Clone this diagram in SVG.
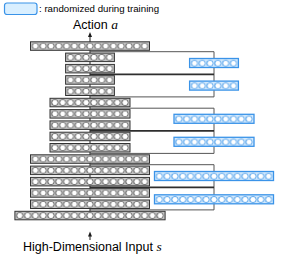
<svg xmlns="http://www.w3.org/2000/svg" width="290" height="256" viewBox="0 0 290 256">
<style>
.bar{fill:#c4c4c4;stroke:#333;stroke-width:1}
.blue{fill:#d3e9fc;stroke:#3a93e8;stroke-width:1.3}
.thin{fill:none;stroke:#555;stroke-width:1}
.dark{fill:none;stroke:#2e2e2e;stroke-width:1.8}
.axis{fill:none;stroke:#1a1a1a;stroke-width:1}
.lbl{font-family:"Liberation Sans",Arial,sans-serif;fill:#000}
.math{font-family:"Liberation Serif","Times New Roman",serif;font-style:italic}
</style>
<defs>
<pattern id="cells" patternUnits="userSpaceOnUse" x="1" y="0" width="7.8" height="8.5">
<line x1="0" y1="2" x2="0" y2="6.5" stroke="#666" stroke-width="0.6"/>
<circle cx="3.9" cy="4.25" r="3.05" fill="#fff" stroke="#555" stroke-width="0.8"/>
</pattern>
<pattern id="bcells" patternUnits="userSpaceOnUse" x="1" y="0.25" width="7.8" height="9">
<line x1="0" y1="2" x2="0" y2="7" stroke="#3a93e8" stroke-width="0.6"/>
<circle cx="3.9" cy="4.5" r="3.05" fill="#fff" stroke="#3a93e8" stroke-width="0.8"/>
</pattern>
</defs>

<g id="legend">
<rect x="4.5" y="3" width="32.5" height="11.5" rx="2.5" fill="#d9efff" stroke="#3a93e8" stroke-width="1.2"/>
<text class="lbl" x="39" y="12" font-size="9.7">: randomized during training</text>
</g>

<g id="connectors">
<line class="axis" x1="90" y1="36" x2="90" y2="212"/>
<polygon points="90,32 88,37 92,37" fill="#1a1a1a"/>
<line class="axis" x1="90" y1="240" x2="90" y2="235"/>
<polygon points="90,231.5 88,236.5 92,236.5" fill="#1a1a1a"/>
<polyline class="thin" points="90,51.7 214,51.7 214,96.9 90,96.9"/>
<line class="dark" x1="90" y1="74.3" x2="214" y2="74.3"/>
<polyline class="thin" points="90,108.2 214,108.2 214,153.4 90,153.4"/>
<line class="dark" x1="90" y1="130.8" x2="214" y2="130.8"/>
<polyline class="thin" points="90,164.7 214,164.7 214,209.9 90,209.9"/>
<line class="dark" x1="90" y1="187.3" x2="214" y2="187.3"/>
</g>

<g id="row1" transform="translate(30.5,41.8)"><rect class="bar" width="119" height="8.5"/><rect x="1" width="117" height="8.5" fill="url(#cells)"/></g>
<g id="row2" transform="translate(65.6,53.1)"><rect class="bar" width="48.8" height="8.5"/><rect x="1" width="46.8" height="8.5" fill="url(#cells)"/></g>
<g id="row3" transform="translate(65.6,64.4)"><rect class="bar" width="48.8" height="8.5"/><rect x="1" width="46.8" height="8.5" fill="url(#cells)"/></g>
<g id="row4" transform="translate(65.6,75.7)"><rect class="bar" width="48.8" height="8.5"/><rect x="1" width="46.8" height="8.5" fill="url(#cells)"/></g>
<g id="row5" transform="translate(65.6,87.0)"><rect class="bar" width="48.8" height="8.5"/><rect x="1" width="46.8" height="8.5" fill="url(#cells)"/></g>
<g id="row6" transform="translate(50,98.3)"><rect class="bar" width="80" height="8.5"/><rect x="1" width="78" height="8.5" fill="url(#cells)"/></g>
<g id="row7" transform="translate(50,109.6)"><rect class="bar" width="80" height="8.5"/><rect x="1" width="78" height="8.5" fill="url(#cells)"/></g>
<g id="row8" transform="translate(50,120.9)"><rect class="bar" width="80" height="8.5"/><rect x="1" width="78" height="8.5" fill="url(#cells)"/></g>
<g id="row9" transform="translate(50,132.2)"><rect class="bar" width="80" height="8.5"/><rect x="1" width="78" height="8.5" fill="url(#cells)"/></g>
<g id="row10" transform="translate(50,143.5)"><rect class="bar" width="80" height="8.5"/><rect x="1" width="78" height="8.5" fill="url(#cells)"/></g>
<g id="row11" transform="translate(30.5,154.8)"><rect class="bar" width="119" height="8.5"/><rect x="1" width="117" height="8.5" fill="url(#cells)"/></g>
<g id="row12" transform="translate(30.5,166.1)"><rect class="bar" width="119" height="8.5"/><rect x="1" width="117" height="8.5" fill="url(#cells)"/></g>
<g id="row13" transform="translate(30.5,177.4)"><rect class="bar" width="119" height="8.5"/><rect x="1" width="117" height="8.5" fill="url(#cells)"/></g>
<g id="row14" transform="translate(30.5,188.7)"><rect class="bar" width="119" height="8.5"/><rect x="1" width="117" height="8.5" fill="url(#cells)"/></g>
<g id="row15" transform="translate(30.5,200.0)"><rect class="bar" width="119" height="8.5"/><rect x="1" width="117" height="8.5" fill="url(#cells)"/></g>
<g id="row16" transform="translate(14.9,211.3)"><rect class="bar" width="150.2" height="8.5"/><rect x="1" width="148.2" height="8.5" fill="url(#cells)"/></g>

<g id="rand1" transform="translate(189.6,58.5)"><rect class="blue" width="48.8" height="9"/><rect x="1" y="0.25" width="46.8" height="8.5" fill="url(#bcells)"/></g>
<g id="rand2" transform="translate(189.6,81.1)"><rect class="blue" width="48.8" height="9"/><rect x="1" y="0.25" width="46.8" height="8.5" fill="url(#bcells)"/></g>
<g id="rand3" transform="translate(174,114.3)"><rect class="blue" width="80" height="9"/><rect x="1" y="0.25" width="78" height="8.5" fill="url(#bcells)"/></g>
<g id="rand4" transform="translate(174,137.3)"><rect class="blue" width="80" height="9"/><rect x="1" y="0.25" width="78" height="8.5" fill="url(#bcells)"/></g>
<g id="rand5" transform="translate(154.5,171.5)"><rect class="blue" width="119" height="9"/><rect x="1" y="0.25" width="117" height="8.5" fill="url(#bcells)"/></g>
<g id="rand6" transform="translate(154.5,194.8)"><rect class="blue" width="119" height="9"/><rect x="1" y="0.25" width="117" height="8.5" fill="url(#bcells)"/></g>

<g id="action">
<text class="lbl" x="73" y="28.7" font-size="12.5">Action <tspan class="math" font-size="13.5">a</tspan></text>
</g>
<g id="input">
<text class="lbl" x="23" y="250.8" font-size="12.5">High-Dimensional Input <tspan class="math" font-size="13.5">s</tspan></text>
</g>
</svg>
